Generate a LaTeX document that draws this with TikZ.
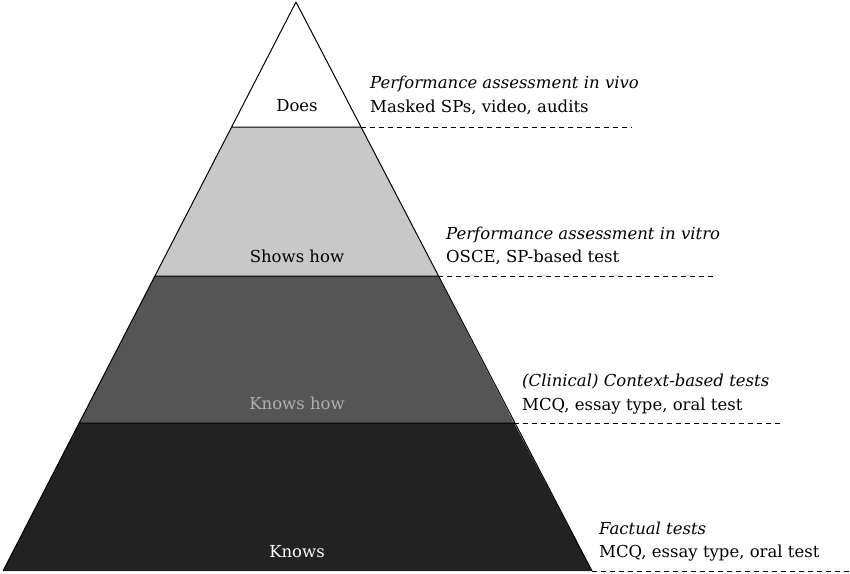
\documentclass[tikz,border=0pt]{standalone}
\usepackage{fontspec}
\setmainfont{DejaVu Serif}
\begin{document}
\begin{tikzpicture}[x=1pt,y=-1pt,
  lvl/.style={draw=black,line width=1pt},
  dline/.style={line width=0.8pt,dash pattern=on 5pt off 4pt},
  lab/.style={anchor=base west,font=\fontsize{16.5}{20}\selectfont,inner sep=0pt},
  inl/.style={anchor=base,font=\fontsize{16.5}{20}\selectfont,inner sep=0pt}]
\useasboundingbox (0,0) rectangle (850,573);
\coordinate (A) at (296,2);
\coordinate (L1) at (232,127); \coordinate (R1) at (361,127);
\coordinate (L2) at (155,276); \coordinate (R2) at (438,276);
\coordinate (L3) at (79,423); \coordinate (R3) at (514,423);
\coordinate (L4) at (3,571); \coordinate (R4) at (592,571);
\coordinate (E1) at (632,127); \coordinate (E2) at (715,276);
\coordinate (E3) at (780,423); \coordinate (E4) at (850,571);
\fill[white] (A)--(R1)--(L1)--cycle;
\fill[fill={rgb,255:red,200;green,200;blue,200}] (L1)--(R1)--(R2)--(L2)--cycle;
\fill[fill={rgb,255:red,85;green,85;blue,85}] (L2)--(R2)--(R3)--(L3)--cycle;
\fill[fill={rgb,255:red,34;green,34;blue,34}] (L3)--(R3)--(R4)--(L4)--cycle;
\draw[lvl] (A)--(L4) (A)--(R4) (L1)--(R1) (L2)--(R2) (L3)--(R3);
\draw[dline] (R1)--(E1);
\draw[dline] (R2)--(E2);
\draw[dline] (R3)--(E3);
\draw[dline] (R4)--(E4);
\node[inl] (t1) at (297,111) {Does};
\node[inl] (t2) at (297,262) {Shows how};
\node[inl,text={rgb,255:red,175;green,175;blue,175}] (t3) at (297,409) {Knows how};
\node[inl,text=white] (t4) at (297,557) {Knows};
\node[lab] (a1) at (370,88) {\itshape Performance assessment in vivo};
\node[lab] (b1) at (370,112) {Masked SPs, video, audits};
\node[lab] (a2) at (446,239) {\itshape Performance assessment in vitro};
\node[lab] (b2) at (446,262) {OSCE, SP-based test};
\node[lab] (a3) at (522,386) {\itshape (Clinical) Context-based tests};
\node[lab] (b3) at (522,410) {MCQ, essay type, oral test};
\node[lab] (a4) at (599,534) {\itshape Factual tests};
\node[lab] (b4) at (599,557) {MCQ, essay type, oral test};
\end{tikzpicture}
\end{document}
